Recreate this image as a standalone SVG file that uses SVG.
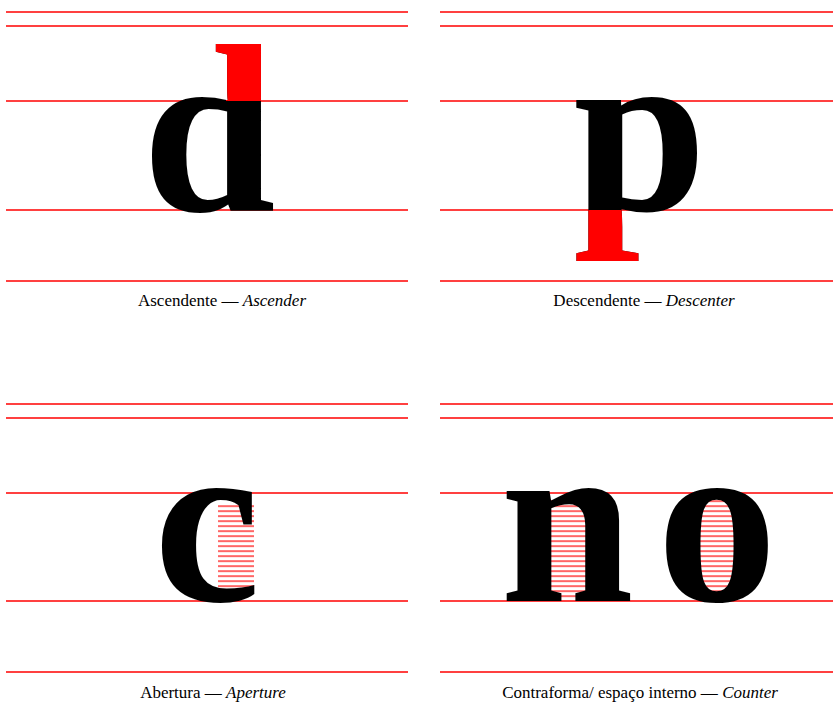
<svg xmlns="http://www.w3.org/2000/svg" width="833" height="706" viewBox="0 0 833 706">
<style>
.g{stroke:#ff0000;stroke-width:1.5;fill:none}
.big{font-family:"Liberation Serif","Times New Roman",serif;font-weight:bold;font-size:240px;text-anchor:middle}
.cap{font-family:"Liberation Serif","Times New Roman",serif;font-size:17px;text-anchor:middle;fill:#000}
.it{font-style:italic}
</style>
<defs>
<pattern id="hatch" patternUnits="userSpaceOnUse" width="10" height="5" y="0.5">
<rect x="0" y="0" width="10" height="1.2" fill="#ff0000"/>
</pattern>
<clipPath id="asc"><path d="M205,0 H290 V101 H226 V80 H205 Z"/></clipPath>
<clipPath id="desc"><path d="M560,210 H627 V240 H655 V300 H560 Z"/></clipPath>
<clipPath id="oCounter"><ellipse cx="717" cy="551" rx="40" ry="52"/></clipPath>
</defs>
<g id="lines">
<line class="g" x1="6" y1="12" x2="408" y2="12"/>
<line class="g" x1="6" y1="26" x2="408" y2="26"/>
<line class="g" x1="6" y1="101" x2="408" y2="101"/>
<line class="g" x1="6" y1="210" x2="408" y2="210"/>
<line class="g" x1="6" y1="281" x2="408" y2="281"/>
<line class="g" x1="440" y1="12" x2="833" y2="12"/>
<line class="g" x1="440" y1="26" x2="833" y2="26"/>
<line class="g" x1="440" y1="101" x2="833" y2="101"/>
<line class="g" x1="440" y1="210" x2="833" y2="210"/>
<line class="g" x1="440" y1="281" x2="833" y2="281"/>
<line class="g" x1="6" y1="404" x2="408" y2="404"/>
<line class="g" x1="6" y1="418" x2="408" y2="418"/>
<line class="g" x1="6" y1="493" x2="408" y2="493"/>
<line class="g" x1="6" y1="601" x2="408" y2="601"/>
<line class="g" x1="6" y1="672" x2="408" y2="672"/>
<line class="g" x1="440" y1="404" x2="833" y2="404"/>
<line class="g" x1="440" y1="418" x2="833" y2="418"/>
<line class="g" x1="440" y1="493" x2="833" y2="493"/>
<line class="g" x1="440" y1="601" x2="833" y2="601"/>
<line class="g" x1="440" y1="672" x2="833" y2="672"/>
</g>
<g id="ascender">
<text class="big" x="209" y="210" fill="#000">d</text>
<text class="big" x="209" y="210" fill="#ff0000" clip-path="url(#asc)">d</text>
<text class="cap" x="222" y="306">Ascendente — <tspan class="it">Ascender</tspan></text>
</g>
<g id="descender">
<text class="big" x="640" y="210" fill="#000">p</text>
<text class="big" x="640" y="210" fill="#ff0000" clip-path="url(#desc)">p</text>
<text class="cap" x="644" y="306">Descendente — <tspan class="it">Descenter</tspan></text>
</g>
<g id="aperture">
<rect x="218" y="504" width="36" height="85" fill="url(#hatch)"/>
<text class="big" x="207" y="601" fill="#000">c</text>
<text class="cap" x="213" y="698">Abertura — <tspan class="it">Aperture</tspan></text>
</g>
<g id="counter">
<rect x="541" y="500" width="53" height="99" fill="url(#hatch)"/>
<rect x="670" y="495" width="95" height="110" fill="url(#hatch)" clip-path="url(#oCounter)"/>
<text class="big" x="567" y="601" fill="#000">n</text>
<text class="big" x="717" y="601" fill="#000">o</text>
<text class="cap" x="640" y="698">Contraforma/ espaço interno — <tspan class="it">Counter</tspan></text>
</g>
</svg>
